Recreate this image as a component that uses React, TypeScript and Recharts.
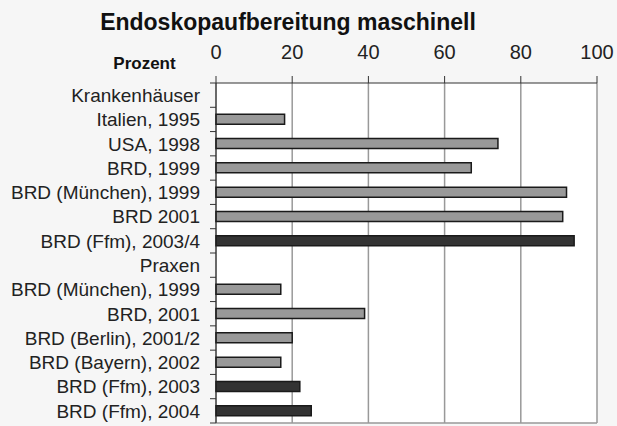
import React from 'react';
import { BarChart, Bar, XAxis, YAxis, CartesianGrid, Cell } from 'recharts';

const categories = [
  'Krankenhäuser',
  'Italien, 1995',
  'USA, 1998',
  'BRD, 1999',
  'BRD (München), 1999',
  'BRD 2001',
  'BRD (Ffm), 2003/4',
  'Praxen',
  'BRD (München), 1999',
  'BRD, 2001',
  'BRD (Berlin), 2001/2',
  'BRD (Bayern), 2002',
  'BRD (Ffm), 2003',
  'BRD (Ffm), 2004',
];
const values = [null, 18, 74, 67, 92, 91, 94, null, 17, 39, 20, 17, 22, 25];
const ownStudy = [false, false, false, false, false, false, true, false, false, false, false, false, true, true];
const xTicks = [0, 20, 40, 60, 80, 100];

const data = categories.map((name, i) => ({ key: `c${i}`, name, value: values[i], own: ownStudy[i] }));

const W = 617;
const H = 426;
const margin = { top: 0, right: 20, bottom: 3, left: 0 };
const topAxisH = 83;
const band = (H - margin.top - margin.bottom - topAxisH) / categories.length;
const font = '"Liberation Sans", Arial, sans-serif';

const CategoryTick = (props: any) => {
  const { x, y, index } = props;
  const label = data[index] ? data[index].name : '';
  return (
    <g>
      <text x={x} y={y} dy="0.36em" textAnchor="end" fontSize={19} fill="#222" fontFamily={font}>
        {label}
      </text>
      <line x1={x + 10} x2={x + 16} y1={y - band / 2} y2={y - band / 2} stroke="#333" strokeWidth={1} />
      {index === categories.length - 1 && (
        <line x1={x + 10} x2={x + 16} y1={y + band / 2} y2={y + band / 2} stroke="#333" strokeWidth={1} />
      )}
    </g>
  );
};

export default function App() {
  return (
    <div style={{ position: 'absolute', left: 0, top: 0, width: W, height: H, background: '#f6f6f6', fontFamily: font }}>
      <BarChart width={W} height={H} data={data} layout="vertical" margin={margin} barCategoryGap={0}>
        <CartesianGrid
          fill="#fff"
          stroke="#999"
          strokeWidth={1.5}
          horizontalCoordinatesGenerator={({ offset }: any) => [offset.top + offset.height]}
        />
        <XAxis
          type="number"
          orientation="top"
          domain={[0, 100]}
          ticks={xTicks}
          height={topAxisH}
          tickSize={7}
          tickMargin={17}
          axisLine={{ stroke: '#333' }}
          tickLine={{ stroke: '#333' }}
          tick={{ fill: '#222', fontSize: 20, fontFamily: font }}
          interval={0}
        />
        <YAxis
          type="category"
          dataKey="key"
          width={216}
          tickSize={6}
          tickMargin={10}
          tickLine={false}
          axisLine={{ stroke: '#222' }}
          tick={<CategoryTick />}
          interval={0}
        />
        <Bar dataKey="value" barSize={10} strokeWidth={1.5} isAnimationActive={false}>
          {data.map((d, i) => (
            <Cell key={i} fill={d.own ? '#333' : '#999'} stroke="#1a1a1a" />
          ))}
        </Bar>
      </BarChart>
      <svg width={W} height={H} style={{ position: 'absolute', left: 0, top: 0, pointerEvents: 'none' }}>
        <text x={288} y={29.5} textAnchor="middle" fontSize={23} fontWeight="bold" fill="#111" fontFamily={font}>
          Endoskopaufbereitung maschinell
        </text>
        <text x={144.5} y={68.5} textAnchor="middle" fontSize={17} fontWeight="bold" fill="#111" fontFamily={font}>
          Prozent
        </text>
      </svg>
    </div>
  );
}
